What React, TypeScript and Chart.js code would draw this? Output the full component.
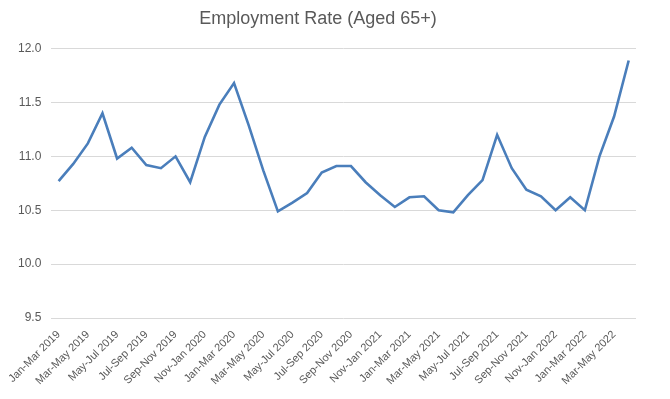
import React, { useEffect, useRef } from "react";
import { Chart, registerables } from "chart.js";

Chart.register(...registerables);

const categories: string[] = [
  "Jan-Mar 2019", "Feb-Apr 2019", "Mar-May 2019", "Apr-Jun 2019", "May-Jul 2019", "Jun-Aug 2019",
  "Jul-Sep 2019", "Aug-Oct 2019", "Sep-Nov 2019", "Oct-Dec 2019", "Nov-Jan 2020", "Dec-Feb 2020",
  "Jan-Mar 2020", "Feb-Apr 2020", "Mar-May 2020", "Apr-Jun 2020", "May-Jul 2020", "Jun-Aug 2020",
  "Jul-Sep 2020", "Aug-Oct 2020", "Sep-Nov 2020", "Oct-Dec 2020", "Nov-Jan 2021", "Dec-Feb 2021",
  "Jan-Mar 2021", "Feb-Apr 2021", "Mar-May 2021", "Apr-Jun 2021", "May-Jul 2021", "Jun-Aug 2021",
  "Jul-Sep 2021", "Aug-Oct 2021", "Sep-Nov 2021", "Oct-Dec 2021", "Nov-Jan 2022", "Dec-Feb 2022",
  "Jan-Mar 2022", "Feb-Apr 2022", "Mar-May 2022", "Apr-Jun 2022",
];

const employmentRate: number[] = [
  10.77, 10.93, 11.12, 11.40, 10.98, 11.08, 10.92, 10.89, 11.00, 10.76,
  11.18, 11.48, 11.68, 11.29, 10.87, 10.49, 10.57, 10.66, 10.85, 10.91,
  10.91, 10.76, 10.64, 10.53, 10.62, 10.63, 10.50, 10.48, 10.64, 10.78,
  11.20, 10.89, 10.69, 10.63, 10.50, 10.62, 10.50, 11.00, 11.37, 11.89,
];

const yTicks: number[] = [9.5, 10.0, 10.5, 11.0, 11.5, 12.0];

const titleText = "Employment Rate (Aged 65+)";

export default function App() {
  const ref = useRef<HTMLCanvasElement | null>(null);

  useEffect(() => {
    if (!ref.current) return;
    const chart = new Chart(ref.current, {
      type: "line",
      data: {
        labels: categories,
        datasets: [
          {
            label: "Employment Rate",
            data: employmentRate,
            borderColor: "#4A7EBB",
            borderWidth: 2.6,
            pointRadius: 0,
            tension: 0,
            fill: false,
          },
        ],
      },
      options: {
        responsive: false,
        animation: false,
        layout: { padding: { left: 0, right: 34, top: 0, bottom: 0 } },
        plugins: {
          legend: { display: false },
          tooltip: { enabled: false },
          title: {
            display: true,
            text: titleText,
            color: "#595959",
            font: { family: "'Liberation Sans', Arial, sans-serif", size: 18, weight: "normal" },
            padding: { top: 8, bottom: 19 },
          },
        },
        scales: {
          x: {
            type: "category",
            offset: true,
            grid: { display: false, drawTicks: false },
            border: { display: false },
            ticks: {
              autoSkip: false,
              maxRotation: 45,
              minRotation: 45,
              padding: 10,
              color: "#595959",
              font: { family: "'Liberation Sans', Arial, sans-serif", size: 11 },
              callback: (_v: any, i: number) => (i % 2 === 0 ? categories[i] : ""),
            },
            afterFit: (scale: any) => {
              scale.height = 81;
            },
          },
          y: {
            min: yTicks[0],
            max: yTicks[yTicks.length - 1],
            afterBuildTicks: (scale: any) => {
              scale.ticks = yTicks.map((v) => ({ value: v }));
            },
            grid: { color: "#D9D9D9", lineWidth: 1, drawTicks: false },
            border: { display: false },
            ticks: {
              padding: 10,
              color: "#595959",
              font: { family: "'Liberation Sans', Arial, sans-serif", size: 12 },
              callback: (v: any) => Number(v).toFixed(1),
            },
            afterFit: (scale: any) => {
              scale.width = 50;
            },
          },
        },
      },
    });
    return () => chart.destroy();
  }, []);

  return (
    <div style={{ position: "fixed", left: 0, top: 0, width: 670, height: 399, background: "#fff" }}>
      <canvas ref={ref} width={670} height={399} />
    </div>
  );
}
